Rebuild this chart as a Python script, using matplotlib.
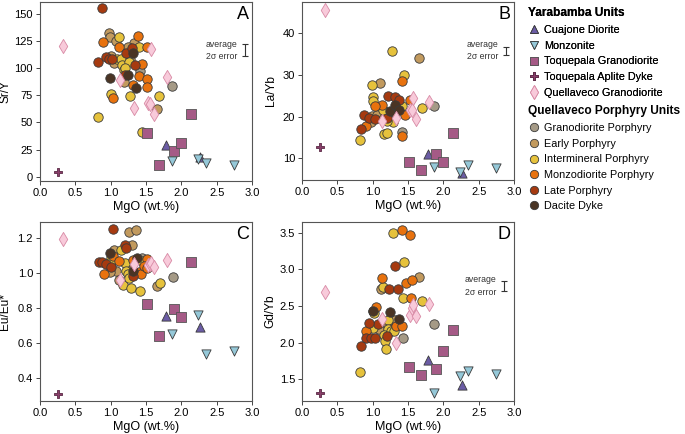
"""Sr/Y, La/Yb, Eu/Eu* and Gd/Yb vs MgO for Yarabamba and Quellaveco units."""

import matplotlib
matplotlib.use("Agg")
import matplotlib.pyplot as plt
from matplotlib.lines import Line2D

plt.rcParams["font.family"] = ["Liberation Sans", "DejaVu Sans"]

# ---- Yarabamba units: shared MgO, one value list per panel ----
mgo_cuajone = [1.79, 2.27]
cuajone_sry = [29, 18]
cuajone_layb = [11, 6.5]
cuajone_eu = [0.75, 0.69]
cuajone_gdyb = [1.77, 1.42]

mgo_monzonite = [1.87, 2.23, 2.35, 2.74]
monzonite_sry = [14, 16, 12.5, 11]
monzonite_layb = [7.8, 6.8, 8.4, 7.6]
monzonite_eu = [0.65, 0.76, 0.535, 0.55]
monzonite_gdyb = [1.32, 1.545, 1.617, 1.572]

mgo_toq_gd = [1.52, 1.68, 1.90, 2.00, 2.14]
toq_gd_sry = [40, 10.5, 24, 31, 57.5]
toq_gd_layb = [9.05, 7.2, 11, 9.05, 16.1]
toq_gd_eu = [0.82, 0.64, 0.79, 0.745, 1.06]
toq_gd_gdyb = [1.665, 1.555, 1.645, 1.89, 2.17]

mgo_aplite = [0.26]
aplite_sry = [4.5]
aplite_layb = [12.6]
aplite_eu = [0.305]
aplite_gdyb = [1.32]

mgo_quell_gd = [0.33, 1.13, 1.33, 1.53, 1.55, 1.57, 1.61, 1.80]
quell_gd_sry = [120, 89, 63, 68, 67, 118, 58, 92]
quell_gd_layb = [45.7, 18.9, 19.7, 21.7, 21.5, 24.5, 19.5, 23.4]
quell_gd_eu = [1.19, 0.96, 1.05, 1.045, 1.05, 1.055, 1.035, 1.07]
quell_gd_gdyb = [2.69, 2.32, 2.0, 2.38, 2.47, 2.51, 2.37, 2.53]

# ---- Quellaveco porphyry units: (MgO, value) pairs per panel ----
gdp_sry = [(1.41, 97.5), (1.87, 83.5)]
gdp_layb = [(1.42, 16.4), (1.87, 22.6)]
gdp_eu = [(1.44, 1.085), (1.88, 0.974)]
gdp_gdyb = [(1.43, 2.07), (1.87, 2.25)]

early_sry = [(0.97, 132.8), (0.99, 129), (1.07, 124.8), (1.33, 123.6), (1.24, 119.3),
             (1.05, 105.2), (1.19, 87.1), (1.65, 62.1), (1.00, 111.3), (1.27, 108)]
early_layb = [(1.65, 34.1), (1.11, 28.1), (0.99, 20.2), (1.06, 20.5), (0.98, 18.8),
              (1.29, 19.8), (1.27, 21.0), (1.15, 19.5)]
early_eu = [(1.26, 1.234), (1.36, 1.242), (1.30, 1.158), (1.05, 1.127), (0.98, 1.05),
            (1.08, 1.012), (1.29, 1.018), (0.99, 1.005), (1.12, 0.957), (1.65, 0.926)]
early_gdyb = [(1.66, 2.89), (1.115, 2.73), (0.99, 2.21), (1.035, 2.21), (1.095, 2.18),
              (1.21, 2.24), (1.275, 2.307), (1.31, 2.307)]

inter_sry = [(1.12, 129), (1.40, 119.3), (1.09, 108.6), (1.14, 108.3), (1.16, 103),
             (1.26, 106), (1.19, 98.4), (1.00, 76.4), (1.27, 73.9), (1.69, 73.9),
             (0.82, 55.3), (1.44, 41.2), (1.20, 100)]
inter_layb = [(1.28, 35.8), (1.44, 30), (0.99, 27.6), (1.01, 24.8), (1.01, 23.7),
              (1.15, 21.6), (1.42, 22.6), (1.70, 22), (1.29, 18.6), (1.20, 19.0),
              (1.16, 15.8), (1.20, 16), (0.82, 14.4)]
inter_eu = [(1.14, 1.127), (1.44, 1.066), (1.20, 1.056), (1.00, 1.085), (1.01, 1.06),
            (1.21, 1.012), (1.25, 0.993), (1.17, 0.932), (1.29, 0.913), (1.42, 0.894),
            (1.70, 0.94), (1.26, 0.97)]
inter_gdyb = [(1.285, 3.5), (1.445, 3.105), (1.15, 2.755), (1.43, 2.615), (1.705, 2.565),
              (1.005, 2.43), (1.015, 2.40), (1.005, 2.20), (1.22, 2.307), (1.22, 2.18),
              (1.16, 2.107), (1.26, 2.16), (1.175, 2.025), (1.30, 2.157), (1.195, 1.91),
              (0.82, 1.603)]

monzo_sry = [(1.39, 130), (0.89, 124.2), (1.12, 119.3), (1.51, 119.3), (1.45, 103.7),
             (1.40, 93.2), (1.31, 84.4), (1.52, 90.2), (1.52, 83.1), (1.04, 72.4)]
monzo_layb = [(1.41, 28.6), (1.13, 22.9), (1.04, 22.5), (1.53, 24), (1.46, 20.5),
              (1.32, 21.2), (0.90, 17.8), (1.41, 15.4)]
monzo_eu = [(1.03, 1.095), (1.52, 1.076), (1.12, 1.066), (1.31, 1.07), (1.40, 1.005),
            (1.43, 0.993), (1.47, 1.037), (0.90, 0.99), (1.52, 1.024)]
monzo_gdyb = [(1.417, 3.53), (1.53, 3.47), (1.13, 2.88), (1.47, 2.81), (1.55, 2.86),
              (1.545, 2.615), (1.045, 2.49), (0.907, 2.16), (1.33, 2.225), (1.42, 2.225)]

late_sry = [(0.876, 155.2), (0.825, 105.8), (0.93, 110.1), (0.97, 108.6), (1.02, 108.6),
            (1.21, 114.4), (1.30, 118.4), (1.35, 103.3), (1.20, 93.8)]
late_layb = [(1.22, 25), (1.31, 24.6), (1.37, 24.1), (0.88, 20.4), (0.95, 19.6),
             (1.03, 19.4), (1.20, 19.6), (0.83, 17)]
late_eu = [(1.03, 1.248), (1.20, 1.158), (1.22, 1.139), (0.83, 1.06), (0.88, 1.06),
           (0.93, 1.047), (1.31, 0.98), (1.01, 1.032)]
late_gdyb = [(1.31, 3.045), (1.23, 2.73), (1.365, 2.73), (1.07, 2.26), (0.945, 2.27),
             (0.907, 2.066), (0.978, 2.066), (1.04, 2.066), (1.20, 2.093), (0.84, 1.953)]

dacite_sry = [(1.31, 113.8), (1.25, 93.8), (0.99, 90.8), (1.36, 81.6)]
dacite_layb = [(1.25, 21.4), (1.32, 22.7), (1.37, 21.6)]
dacite_eu = [(1.37, 1.085), (1.31, 1.009), (0.99, 1.112)]
dacite_gdyb = [(1.25, 2.415), (1.375, 2.325), (1.0, 2.43)]

# average 2-sigma error bars (x, centre, half-length); panel C has none
err_sry = (2.90, 116.5, 5.5)
err_layb = (2.89, 35.85, 0.95)
err_gdyb = (2.86, 2.77, 0.068)

# ---- styles ----
EDGE = "#3a3a3a"
porphyry_styles = [
    ("Granodiorite Porphyry", "#a59a86"),
    ("Early Porphyry", "#c29a5e"),
    ("Intermineral Porphyry", "#e6c23c"),
    ("Monzodiorite Porphyry", "#e8720e"),
    ("Late Porphyry", "#a63a10"),
    ("Dacite Dyke", "#4a3424"),
]
yarabamba_styles = [
    ("Cuajone Diorite", "^", "#6b5ca5", EDGE, 44),
    ("Monzonite", "v", "#95c8d8", EDGE, 44),
    ("Toquepala Granodiorite", "s", "#a55a86", "#555555", 46),
    ("Toquepala Aplite Dyke", "P", "#8a3e6a", "#5a2a45", 40),
    ("Quellaveco Granodiorite", "d", "#f8cada", "#d88aa5", 52),
]

panels = [
    # key, ylabel, ylabel x (axes coords), ylim, yticks, porphyry, yarabamba, error bar
    ("A", "Sr/Y", -0.135, (-4, 161), [0, 25, 50, 75, 100, 125, 150],
     [gdp_sry, early_sry, inter_sry, monzo_sry, late_sry, dacite_sry],
     [(mgo_cuajone, cuajone_sry), (mgo_monzonite, monzonite_sry),
      (mgo_toq_gd, toq_gd_sry), (mgo_aplite, aplite_sry),
      (mgo_quell_gd, quell_gd_sry)], err_sry),
    ("B", "La/Yb", -0.12, (4.8, 47.5), [10, 20, 30, 40],
     [gdp_layb, early_layb, inter_layb, monzo_layb, late_layb, dacite_layb],
     [(mgo_cuajone, cuajone_layb), (mgo_monzonite, monzonite_layb),
      (mgo_toq_gd, toq_gd_layb), (mgo_aplite, aplite_layb),
      (mgo_quell_gd, quell_gd_layb)], err_layb),
    ("C", "Eu/Eu*", -0.135, (0.266, 1.29), [0.4, 0.6, 0.8, 1.0, 1.2],
     [gdp_eu, early_eu, inter_eu, monzo_eu, late_eu, dacite_eu],
     [(mgo_cuajone, cuajone_eu), (mgo_monzonite, monzonite_eu),
      (mgo_toq_gd, toq_gd_eu), (mgo_aplite, aplite_eu),
      (mgo_quell_gd, quell_gd_eu)], None),
    ("D", "Gd/Yb", -0.12, (1.205, 3.645), [1.5, 2.0, 2.5, 3.0, 3.5],
     [gdp_gdyb, early_gdyb, inter_gdyb, monzo_gdyb, late_gdyb, dacite_gdyb],
     [(mgo_cuajone, cuajone_gdyb), (mgo_monzonite, monzonite_gdyb),
      (mgo_toq_gd, toq_gd_gdyb), (mgo_aplite, aplite_gdyb),
      (mgo_quell_gd, quell_gd_gdyb)], err_gdyb),
]

W, H = 685, 434
boxes = {"A": (40, 2, 252, 181), "B": (302, 2, 514, 180),
         "C": (40, 222, 252, 401), "D": (302, 222, 514, 401)}

fig = plt.figure(figsize=(W / 100, H / 100), dpi=100)

for key, ylabel, ylab_x, ylim, yticks, porph, yara, err in panels:
    x0, y0, x1, y1 = boxes[key]
    ax = fig.add_axes([x0 / W, (H - y1) / H, (x1 - x0) / W, (y1 - y0) / H])
    for pts, (_, color) in zip(porph, porphyry_styles):
        xs = [p[0] for p in pts]
        ys = [p[1] for p in pts]
        ax.scatter(xs, ys, s=46, c=color, edgecolors=EDGE, linewidths=0.6, zorder=3)
    for (xs, ys), (_, mk, fc, ec, sz) in zip(yara, yarabamba_styles):
        ax.scatter(xs, ys, s=sz, marker=mk, c=fc, edgecolors=ec, linewidths=0.6, zorder=4)
    if err is not None:
        ex, ey, eh = err
        ax.errorbar([ex], [ey], yerr=[eh], fmt="none", ecolor="#333333",
                    elinewidth=0.8, capsize=2.2, capthick=0.8)
        ax.text(ex - 0.11, ey, "average\n2σ error", ha="right", va="center",
                fontsize=6.3, color="#333333", linespacing=1.5)
    ax.set_xlim(0, 3.0)
    ax.set_ylim(*ylim)
    ax.set_xticks([0, 0.5, 1.0, 1.5, 2.0, 2.5, 3.0])
    ax.set_xticklabels(["0.0", "0.5", "1.0", "1.5", "2.0", "2.5", "3.0"])
    ax.set_yticks(yticks)
    if key == "C":
        ax.set_yticklabels([f"{v:.1f}" for v in yticks])
    ax.tick_params(labelsize=8, length=3, width=0.7, color="#444444", pad=2)
    for sp in ax.spines.values():
        sp.set_color("#555555")
        sp.set_linewidth(0.8)
    ax.set_xlabel("MgO (wt.%)", fontsize=9, labelpad=2)
    ax.set_ylabel(ylabel, fontsize=8.6)
    ax.yaxis.set_label_coords(ylab_x, 0.5)
    ax.text(0.985, 0.975, key, transform=ax.transAxes, ha="right", va="top", fontsize=13)

# ---- legend ----
def handle(marker, fc, ec, ms):
    return Line2D([], [], ls="none", marker=marker, markerfacecolor=fc,
                  markeredgecolor=ec, markeredgewidth=0.6, markersize=ms)

yara_handles = [handle(mk, fc, ec, 6.0 if mk != "d" else 7.0)
                for _, mk, fc, ec, _ in yarabamba_styles]
porph_handles = [handle("o", c, EDGE, 6.0) for _, c in porphyry_styles]

leg_kw = dict(frameon=False, fontsize=7.8, handletextpad=0.35, labelspacing=0.52,
              borderpad=0, handlelength=1.1, alignment="left",
              title_fontproperties={"weight": "bold", "size": 8.6})
leg1 = fig.legend(yara_handles, [s[0] for s in yarabamba_styles],
                  title="Yarabamba Units", loc="upper left",
                  bbox_to_anchor=(523 / W, 1 - 2 / H), **leg_kw)
fig.add_artist(leg1)
fig.legend(porph_handles, [s[0] for s in porphyry_styles],
           title="Quellaveco Porphyry Units", loc="upper left",
           bbox_to_anchor=(523 / W, 1 - 100 / H), **leg_kw)

fig.savefig("out.png", dpi=100)
